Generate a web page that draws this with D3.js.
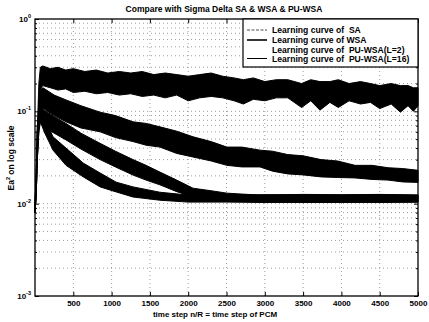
<!DOCTYPE html>
<html><head><meta charset="utf-8">
<script src="https://cdn.jsdelivr.net/npm/d3@7"></script>
<style>
html,body{margin:0;padding:0;background:#fff;}
svg{display:block;font-family:"Liberation Sans",Arial,sans-serif;font-weight:bold;}
text{white-space:pre;}
</style></head>
<body><svg id="c" width="429" height="322"></svg>
<script>
// ---- data ----
const title = "Compare with Sigma Delta SA & WSA & PU-WSA";
const xLabel = "time step n/R = time step of PCM";
const yLabel = "on log scale";
const xTicks = [500,1000,1500,2000,2500,3000,3500,4000,4500,5000];
const yDecades = [0,-1,-2,-3];
const legendLabels = ["Learning curve of  SA","Learning curve of WSA","Learning curve of  PU-WSA(L=2)","Learning curve of  PU-WSA(L=16)"];

const nSA  = [0,15,30,50,70,100,200,300,400,500,650,800,950,1100,1250,1400,1550,1700,1850,2000,2150,2300,2450,2600,2720,2850,3000,3150,3300,3480,3600,3720,3850,3960,4100,4250,4380,4500,4650,4770,4870,4940,5000];
const hiSA = [0.010,0.02,0.06,0.2,0.30,0.31,0.29,0.30,0.28,0.29,0.27,0.28,0.26,0.27,0.26,0.27,0.25,0.26,0.25,0.24,0.25,0.26,0.24,0.23,0.22,0.23,0.21,0.22,0.22,0.20,0.22,0.21,0.21,0.22,0.20,0.21,0.20,0.19,0.20,0.19,0.19,0.18,0.18];
const loSA = [0.008,0.012,0.03,0.1,0.17,0.19,0.18,0.17,0.175,0.16,0.165,0.155,0.16,0.15,0.155,0.145,0.15,0.14,0.15,0.13,0.14,0.145,0.14,0.13,0.12,0.135,0.13,0.14,0.14,0.11,0.13,0.103,0.125,0.11,0.13,0.12,0.125,0.107,0.12,0.098,0.115,0.10,0.115];

const nWSA  = [0,15,30,50,70,104,250,405,600,850,1050,1280,1450,1630,1850,2063,2300,2506,2700,2937,3100,3300,3500,3734,3950,4178,4400,4609,4800,5000];
const hiWSA = [0.010,0.02,0.06,0.13,0.17,0.18,0.15,0.133,0.115,0.098,0.090,0.077,0.074,0.068,0.061,0.053,0.047,0.041,0.041,0.038,0.037,0.034,0.033,0.030,0.029,0.026,0.026,0.0245,0.024,0.023];
const loWSA = [0.008,0.012,0.03,0.07,0.10,0.108,0.09,0.077,0.066,0.060,0.052,0.047,0.043,0.041,0.035,0.032,0.029,0.026,0.025,0.025,0.0225,0.021,0.0205,0.0195,0.0192,0.019,0.0183,0.018,0.0172,0.017];

const nL2  = [0,15,30,50,70,104,250,405,600,850,1050,1280,1450,1630,1850,2063,2300,2506,2700,2937,3500,4000,4500,5000];
const hiL2 = [0.010,0.02,0.06,0.10,0.12,0.105,0.088,0.074,0.058,0.045,0.037,0.030,0.026,0.022,0.018,0.0147,0.0138,0.013,0.0127,0.0124,0.0126,0.0125,0.0126,0.0124];
const loL2 = [0.008,0.012,0.03,0.06,0.075,0.068,0.058,0.049,0.039,0.030,0.025,0.0204,0.018,0.016,0.0135,0.0118,0.0113,0.0109,0.0106,0.0104,0.0103,0.0103,0.0104,0.0104];

const nL16  = [0,15,30,50,65,120,235,405,630,850,1060,1280,1630,2000,2500,3000,3500,4000,4500,5000];
const hiL16 = [0.010,0.02,0.07,0.10,0.108,0.085,0.053,0.040,0.0275,0.0215,0.0171,0.0152,0.0133,0.0124,0.0124,0.0125,0.0124,0.0124,0.0125,0.0124];
const loL16 = [0.008,0.012,0.03,0.06,0.08,0.06,0.038,0.026,0.0195,0.0152,0.0134,0.0118,0.0109,0.0104,0.0104,0.0103,0.0104,0.0104,0.0103,0.0104];

// ---- layout ----
const L = 35, R = 418, T = 19, B = 296;
const svg = d3.select("#c");
const x = d3.scaleLinear().domain([0,5000]).range([L,R]);
const y = d3.scaleLog().domain([1e-3,1]).range([B,T]);

// grid
const gGrid = svg.append("g").attr("stroke","#000").attr("stroke-width",0.7)
  .attr("stroke-dasharray","1,3").attr("opacity",0.55);
xTicks.slice(0,-1).forEach(t=>{
  gGrid.append("line").attr("x1",x(t)).attr("x2",x(t)).attr("y1",T).attr("y2",B);
});
const yGrid = [];
for (let e=-3;e<0;e++) for (let m=1;m<10;m++) { if(!(e===-3&&m===1)) yGrid.push(m*Math.pow(10,e)); }
yGrid.forEach(v=>{
  gGrid.append("line").attr("x1",L).attr("x2",R).attr("y1",y(v)).attr("y2",y(v));
});

// bands
function band(n,lo,hi){
  const pts = n.map((d,i)=>({n:d,lo:lo[i],hi:hi[i]}));
  const area = d3.area().x(d=>x(d.n)).y0(d=>y(d.lo)).y1(d=>y(d.hi)).curve(d3.curveLinear);
  svg.append("path").datum(pts).attr("d",area).attr("fill","#000")
    .attr("stroke","#000").attr("stroke-width",1);
}
band(nSA,loSA,hiSA);
band(nWSA,loWSA,hiWSA);
band(nL2,loL2,hiL2);
band(nL16,loL16,hiL16);

// axes frame
svg.append("rect").attr("x",L).attr("y",T).attr("width",R-L).attr("height",B-T)
  .attr("fill","none").attr("stroke","#000").attr("stroke-width",1.3);

// x ticks (inside, top and bottom)
const xAxB = d3.axisBottom(x).tickValues(xTicks).tickSize(-4).tickPadding(4).tickFormat(d3.format("d"));
const gx = svg.append("g").attr("transform",`translate(0,${B})`).call(xAxB);
gx.select(".domain").remove();
gx.selectAll("text").attr("font-size",8).attr("font-weight","bold").attr("font-family","Liberation Sans, Arial, sans-serif");
const xAxT = d3.axisTop(x).tickValues(xTicks).tickSize(-4).tickFormat("");
const gxt = svg.append("g").attr("transform",`translate(0,${T})`).call(xAxT);
gxt.select(".domain").remove();

// y ticks major/minor inside both sides
const yMinor = yGrid.filter(v=>Math.abs(Math.log10(v)-Math.round(Math.log10(v)))>1e-6);
const yMajor = yDecades.map(e=>Math.pow(10,e));
[[d3.axisLeft, L],[d3.axisRight, R]].forEach(([ax,pos])=>{
  const g1 = svg.append("g").attr("transform",`translate(${pos},0)`).call(ax(y).tickValues(yMajor).tickSize(-4).tickFormat(""));
  g1.select(".domain").remove();
  const g2 = svg.append("g").attr("transform",`translate(${pos},0)`).call(ax(y).tickValues(yMinor).tickSize(-2).tickFormat(""));
  g2.select(".domain").remove();
});

// y tick labels 10^e
yDecades.forEach(e=>{
  const t = svg.append("text").attr("x",L-4).attr("y",y(Math.pow(10,e))+3).attr("text-anchor","end")
    .attr("font-size",8);
  t.append("tspan").text("10");
  t.append("tspan").attr("font-size",5.5).attr("dy",-4).text(String(e));
});

// title and labels
svg.append("text").attr("x",224).attr("y",12).attr("text-anchor","middle").attr("font-size",8.5).text(title);
svg.append("text").attr("x",215).attr("y",317).attr("text-anchor","middle").attr("font-size",8).text(xLabel);
const yl = svg.append("text").attr("transform","translate(14,158) rotate(-90)").attr("text-anchor","middle").attr("font-size",8.5);
yl.append("tspan").text("Ea");
yl.append("tspan").attr("font-size",5.5).attr("dy",-4).text("2");
yl.append("tspan").attr("dy",4).text(" " + yLabel);

// legend
const lg = svg.append("g");
lg.append("rect").attr("x",243).attr("y",T).attr("width",R-243).attr("height",48)
  .attr("fill","#fff").attr("stroke","#000").attr("stroke-width",1.2);
const rowY = [30,40,49.5,58.5];
const lineStyles = [{w:0.7,dash:"3,1.5"},{w:1.6,dash:null},{w:0,dash:null},{w:1,dash:null}];
legendLabels.forEach((lab,i)=>{
  if (lineStyles[i].w>0) {
    const ln = lg.append("line").attr("x1",247).attr("x2",267).attr("y1",rowY[i]).attr("y2",rowY[i])
      .attr("stroke","#000").attr("stroke-width",lineStyles[i].w);
    if (lineStyles[i].dash) ln.attr("stroke-dasharray",lineStyles[i].dash);
  }
  lg.append("text").attr("x",272).attr("y",rowY[i]+3).attr("font-size",8.6)
    .attr("xml:space","preserve").text(lab);
});
</script></body></html>
